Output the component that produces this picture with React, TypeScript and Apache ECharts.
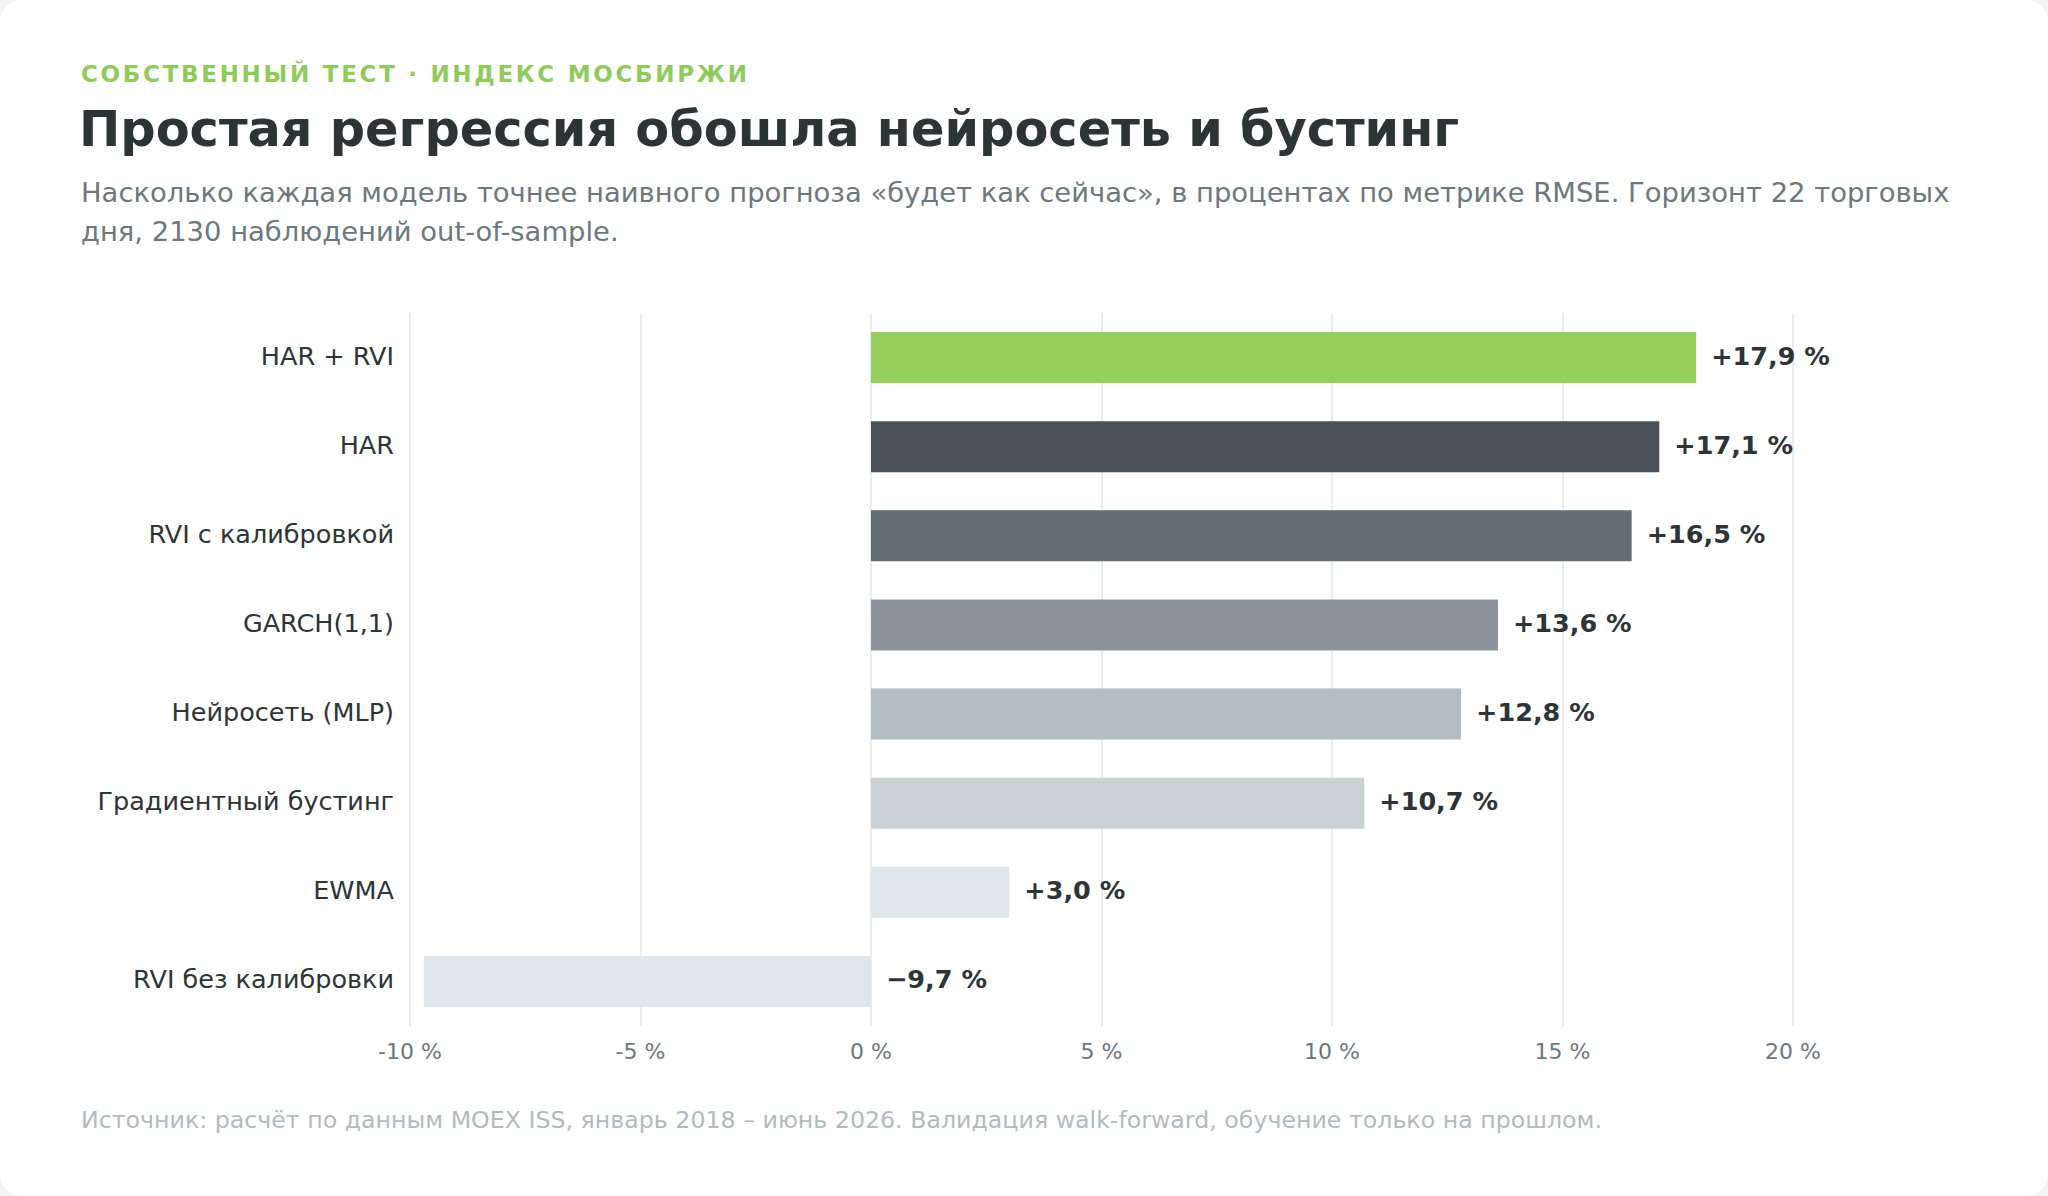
import React, { useEffect, useRef } from "react";
import * as echarts from "echarts";

const categories = [
  "HAR + RVI",
  "HAR",
  "RVI с калибровкой",
  "GARCH(1,1)",
  "Нейросеть (MLP)",
  "Градиентный бустинг",
  "EWMA",
  "RVI без калибровки",
];
const values = [17.9, 17.1, 16.5, 13.6, 12.8, 10.7, 3.0, -9.7];
const barColors = [
  "#97cf5c",
  "#4a5258",
  "#636d72",
  "#8c939a",
  "#b3bcc2",
  "#c9d1d4",
  "#dfe5e8",
  "#dfe5e8",
];
const axisMin = -10;
const axisMax = 20;
const axisStep = 5;

const kicker = "СОБСТВЕННЫЙ ТЕСТ · ИНДЕКС МОСБИРЖИ";
const title = "Простая регрессия обошла нейросеть и бустинг";
const subtitle =
  "Насколько каждая модель точнее наивного прогноза «будет как сейчас», в процентах по метрике RMSE. Горизонт 22 торговых\nдня, 2130 наблюдений out-of-sample.";
const footnote =
  "Источник: расчёт по данным MOEX ISS, январь 2018 – июнь 2026. Валидация walk-forward, обучение только на прошлом.";

const FONT = "'DejaVu Sans', 'Noto Sans', sans-serif";
const KICKER_COLOR = "#8fcb5c";

function fmtValue(v: number): string {
  const s = Math.abs(v).toFixed(1).replace(".", ",");
  return (v < 0 ? "\u2212" : "+") + s + " %";
}

export default function App() {
  const ref = useRef<HTMLDivElement>(null);

  useEffect(() => {
    document.body.style.margin = "0";
    const chart = echarts.init(ref.current!, null, { renderer: "svg" });
    chart.setOption({
      animation: false,
      backgroundColor: "transparent",
      textStyle: { fontFamily: FONT },
      grid: { left: 410, right: 255, top: 313, bottom: 170, containLabel: false },
      xAxis: {
        type: "value",
        min: axisMin,
        max: axisMax,
        interval: axisStep,
        axisLine: { show: false },
        axisTick: { show: false },
        splitLine: { show: true, lineStyle: { color: "#e3e7e9", width: 1.5 } },
        axisLabel: {
          formatter: (v: number) => `${v} %`,
          fontSize: 22,
          color: "#6c777c",
          fontFamily: FONT,
          margin: 14,
        },
      },
      yAxis: {
        type: "category",
        inverse: true,
        data: categories,
        axisLine: { show: false },
        axisTick: { show: false },
        splitLine: { show: false },
        axisLabel: {
          fontSize: 25.5,
          color: "#2d3436",
          fontFamily: FONT,
          margin: 16,
          verticalAlign: "bottom",
          lineHeight: 4,
        },
      },
      series: [
        {
          type: "bar",
          barWidth: 51,
          data: values.map((v, i) => ({
            value: v,
            itemStyle: { color: barColors[i] },
          })),
          label: {
            show: true,
            position: "right",
            distance: 15,
            offset: [0, -2],
            formatter: (p: any) => fmtValue(p.value),
            fontSize: 25.5,
            fontWeight: "bold",
            color: "#2d3436",
            fontFamily: FONT,
          },
        },
      ],
      graphic: [
        {
          type: "text",
          left: 81,
          top: 62,
          style: {
            text: kicker,
            fontSize: 23,
            fontWeight: "bold",
            fill: KICKER_COLOR,
            fontFamily: FONT,
          },
        },
        {
          type: "text",
          left: 79,
          top: 104,
          style: {
            text: title,
            fontSize: 49.4,
            fontWeight: "bold",
            fill: "#2d3436",
            fontFamily: FONT,
          },
        },
        {
          type: "text",
          left: 81,
          top: 172.5,
          style: {
            text: subtitle,
            fontSize: 27.4,
            lineHeight: 39,
            fill: "#6c787d",
            fontFamily: FONT,
          },
        },
        {
          type: "text",
          left: 81,
          top: 1108,
          style: {
            text: footnote,
            fontSize: 23.7,
            fill: "#b1bbbf",
            fontFamily: FONT,
          },
        },
      ],
    });
    return () => chart.dispose();
  }, []);

  return (
    <div
      style={{
        position: "fixed",
        left: 0,
        top: 0,
        width: 2048,
        height: 1196,
        background: "#f3f4f4",
      }}
    >
      <style>{`svg text[fill="${KICKER_COLOR}"]{letter-spacing:2.7px;}`}</style>
      <div
        ref={ref}
        style={{
          width: 2048,
          height: 1196,
          background: "#ffffff",
          borderRadius: 22,
          overflow: "hidden",
        }}
      />
    </div>
  );
}
